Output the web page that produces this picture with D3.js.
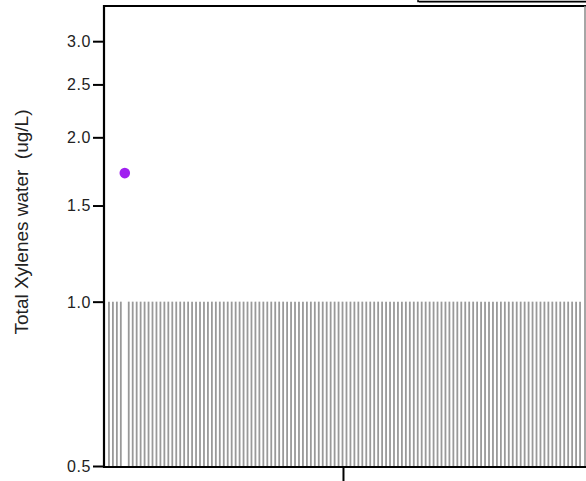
<!DOCTYPE html>
<html>
<head>
<meta charset="utf-8">
<script src="https://cdn.jsdelivr.net/npm/d3@7"></script>
<style>
  html, body { margin: 0; padding: 0; background: #fff; }
  svg { display: block; font-family: "Liberation Sans", Arial, sans-serif; }
</style>
</head>
<body>
<svg id="chart" width="586" height="481"></svg>
<script>
// Sampling events (monthly), left to right
const sampleDates = [
  "2008-01","2008-02","2008-03","2008-04","2008-05","2008-06","2008-07","2008-08","2008-09","2008-10","2008-11","2008-12",
  "2009-01","2009-02","2009-03","2009-04","2009-05","2009-06","2009-07","2009-08","2009-09","2009-10","2009-11","2009-12",
  "2010-01","2010-02","2010-03","2010-04","2010-05","2010-06","2010-07","2010-08","2010-09","2010-10","2010-11","2010-12",
  "2011-01","2011-02","2011-03","2011-04","2011-05","2011-06","2011-07","2011-08","2011-09","2011-10","2011-11","2011-12",
  "2012-01","2012-02","2012-03","2012-04","2012-05","2012-06","2012-07","2012-08","2012-09","2012-10","2012-11","2012-12",
  "2013-01","2013-02","2013-03","2013-04","2013-05","2013-06","2013-07","2013-08","2013-09","2013-10","2013-11","2013-12",
  "2014-01","2014-02","2014-03","2014-04","2014-05","2014-06","2014-07","2014-08","2014-09","2014-10","2014-11","2014-12",
  "2015-01","2015-02","2015-03","2015-04","2015-05","2015-06","2015-07","2015-08","2015-09","2015-10","2015-11","2015-12",
  "2016-01","2016-02","2016-03","2016-04","2016-05","2016-06","2016-07","2016-08","2016-09","2016-10","2016-11","2016-12",
  "2017-01","2017-02","2017-03","2017-04","2017-05","2017-06","2017-07","2017-08","2017-09","2017-10","2017-11","2017-12"
];
// Total Xylenes result (ug/L); non-detects reported at the 1.0 reporting limit
const resultValues = [
  1.0,1.0,1.0,1.0,1.72,1.0,1.0,1.0,1.0,1.0,1.0,1.0,
  1.0,1.0,1.0,1.0,1.0,1.0,1.0,1.0,1.0,1.0,1.0,1.0,
  1.0,1.0,1.0,1.0,1.0,1.0,1.0,1.0,1.0,1.0,1.0,1.0,
  1.0,1.0,1.0,1.0,1.0,1.0,1.0,1.0,1.0,1.0,1.0,1.0,
  1.0,1.0,1.0,1.0,1.0,1.0,1.0,1.0,1.0,1.0,1.0,1.0,
  1.0,1.0,1.0,1.0,1.0,1.0,1.0,1.0,1.0,1.0,1.0,1.0,
  1.0,1.0,1.0,1.0,1.0,1.0,1.0,1.0,1.0,1.0,1.0,1.0,
  1.0,1.0,1.0,1.0,1.0,1.0,1.0,1.0,1.0,1.0,1.0,1.0,
  1.0,1.0,1.0,1.0,1.0,1.0,1.0,1.0,1.0,1.0,1.0,1.0,
  1.0,1.0,1.0,1.0,1.0,1.0,1.0,1.0,1.0,1.0,1.0,1.0
];
// 1 = detected, 0 = non-detect
const detectedFlags = [
  0,0,0,0,1,0,0,0,0,0,0,0,
  0,0,0,0,0,0,0,0,0,0,0,0,
  0,0,0,0,0,0,0,0,0,0,0,0,
  0,0,0,0,0,0,0,0,0,0,0,0,
  0,0,0,0,0,0,0,0,0,0,0,0,
  0,0,0,0,0,0,0,0,0,0,0,0,
  0,0,0,0,0,0,0,0,0,0,0,0,
  0,0,0,0,0,0,0,0,0,0,0,0,
  0,0,0,0,0,0,0,0,0,0,0,0,
  0,0,0,0,0,0,0,0,0,0,0,0
];
const yTickValues = [0.5, 1.0, 1.5, 2.0, 2.5, 3.0];
const yTickLabels = ["0.5", "1.0", "1.5", "2.0", "2.5", "3.0"];
const xTickIds = ["2013-01"];
const yDomain = [0.5, 3.48];
const yTitle = "Total Xylenes water  (ug/L)";

const data = sampleDates.map((d, i) => ({ id: d, value: resultValues[i], detected: detectedFlags[i] === 1 }));

const svg = d3.select("#chart");
const pLeft = 104, pRight = 585, pTop = 6, pBottom = 467;

const x = d3.scalePoint().domain(sampleDates).range([pLeft, pRight]).padding(1.25);
const y = d3.scaleLog().domain(yDomain).range([pBottom - 1, pTop]);

// non-detect bars
svg.append("g").selectAll("line")
  .data(data.filter(d => !d.detected))
  .join("line")
  .attr("x1", d => x(d.id)).attr("x2", d => x(d.id))
  .attr("y1", pBottom - 1).attr("y2", d => y(d.value))
  .attr("stroke", "#999").attr("stroke-width", 1.8);

// detected points
svg.append("g").selectAll("circle")
  .data(data.filter(d => d.detected))
  .join("circle")
  .attr("cx", d => x(d.id)).attr("cy", d => y(d.value))
  .attr("r", 5.3).attr("fill", "#A020F0");

// frame
svg.append("line").attr("x1", pLeft).attr("x2", pRight + 2).attr("y1", pTop).attr("y2", pTop)
  .attr("stroke", "#000").attr("stroke-width", 2);
svg.append("line").attr("x1", pRight).attr("x2", pRight).attr("y1", pTop).attr("y2", pBottom)
  .attr("stroke", "#888").attr("stroke-width", 1.5);

// y axis
const yAxis = d3.axisLeft(y).tickValues(yTickValues)
  .tickFormat((d, i) => yTickLabels[i]).tickSize(11).tickPadding(2);
const gy = svg.append("g").attr("transform", `translate(${pLeft},0)`).call(yAxis);
gy.attr("font-size", 16).attr("font-family", "Liberation Sans, Arial, sans-serif");
gy.select(".domain").attr("stroke", "#000").attr("stroke-width", 2.2)
  .attr("d", `M0,${pTop - 1}V${pBottom + 1}`);
gy.selectAll(".tick line").attr("stroke", "#000").attr("stroke-width", 2);
gy.selectAll(".tick text").attr("fill", "#222").attr("font-size", 16)
  .attr("letter-spacing", 0.6).attr("dy", "0.34em");

// x axis: single tick (label falls below the visible area)
const gx = svg.append("g").attr("transform", `translate(0,${pBottom})`);
gx.append("line").attr("x1", pLeft - 1).attr("x2", pRight + 2).attr("y1", 0).attr("y2", 0)
  .attr("stroke", "#000").attr("stroke-width", 2.2);
gx.selectAll(".xtick").data(xTickIds).join("line").attr("class", "xtick")
  .attr("x1", d => x(d) - 3).attr("x2", d => x(d) - 3).attr("y1", 0).attr("y2", 16)
  .attr("stroke", "#000").attr("stroke-width", 2);

// y title
svg.append("text")
  .attr("transform", `translate(28,222) rotate(-90)`)
  .attr("text-anchor", "middle").attr("font-size", 19).attr("fill", "#222")
  .style("white-space", "pre")
  .text(yTitle);

// legend box (mostly off the top of the view)
svg.append("rect").attr("x", 418).attr("y", -30).attr("width", 200).attr("height", 31.5)
  .attr("fill", "#fff").attr("stroke", "#000").attr("stroke-width", 1.5);
svg.append("line").attr("x1", 419).attr("x2", 600).attr("y1", 2.5).attr("y2", 2.5)
  .attr("stroke", "#777").attr("stroke-width", 1);
</script>
</body>
</html>
